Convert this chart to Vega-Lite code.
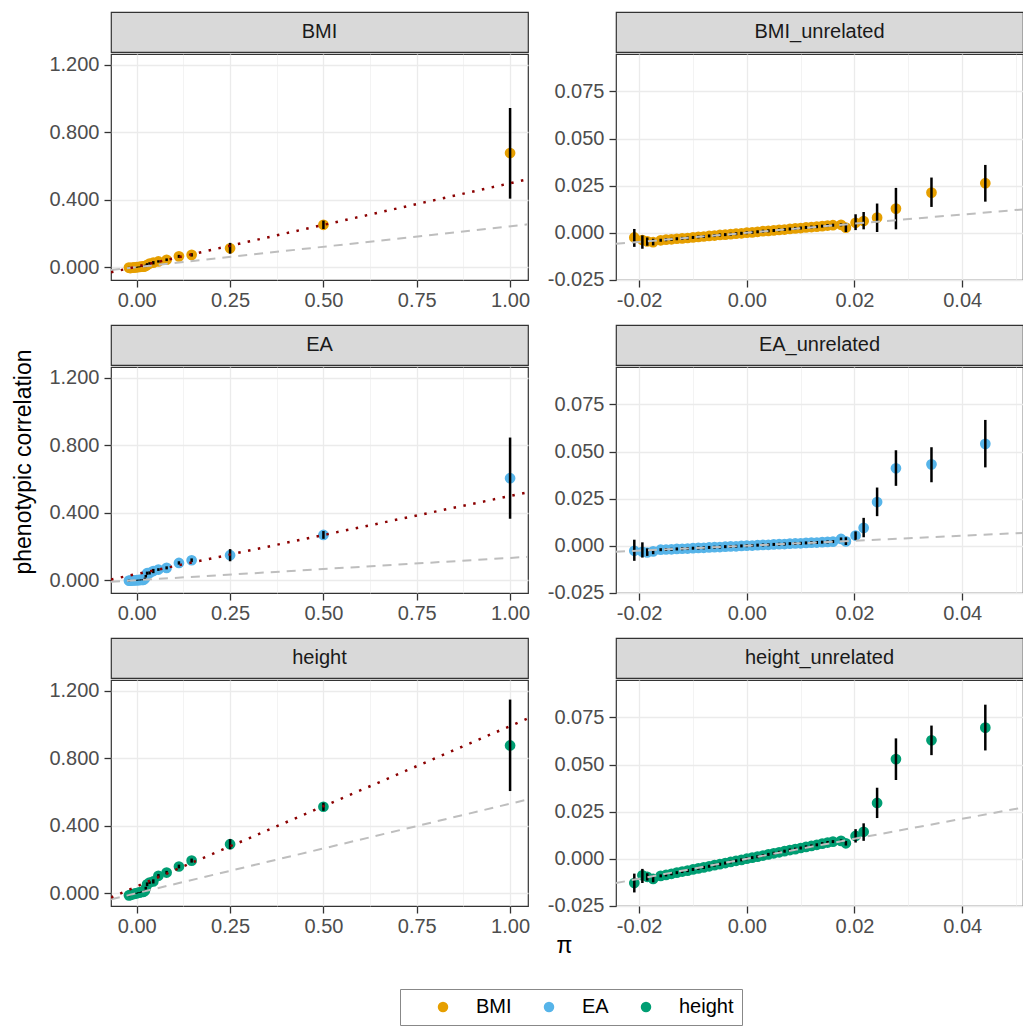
{
  "$schema": "https://vega.github.io/schema/vega-lite/v6.json",
  "padding": {"left": 13, "top": 11, "right": 0, "bottom": 0},
  "autosize": {"type": "pad"},
  "config": {
    "font": "Liberation Sans",
    "view": {"stroke": "#333333", "strokeWidth": 1.2},
    "axis": {"domain": false, "gridColor": "#EBEBEB", "tickColor": "#333333", "tickSize": 7, "tickWidth": 1.3, "labelColor": "#4D4D4D", "labelFontSize": 20, "labelFont": "Liberation Sans"},
    "title": {"font": "Liberation Sans", "fontWeight": "normal", "fontSize": 23, "color": "#000000"}
  },
  "datasets": {
    "pts": [
      {"p":"BMI","t":"BMI","x":-0.0209,"y":-0.0025,"lo":-0.0075,"hi":0.002},
      {"p":"BMI","t":"BMI","x":-0.0174,"y":-0.005,"lo":-0.007,"hi":-0.003},
      {"p":"BMI","t":"BMI","x":-0.012,"y":-0.003,"lo":-0.005,"hi":-0.001},
      {"p":"BMI","t":"BMI","x":-0.008,"y":-0.002,"lo":-0.004,"hi":0.0},
      {"p":"BMI","t":"BMI","x":-0.004,"y":-0.001,"lo":-0.003,"hi":0.001},
      {"p":"BMI","t":"BMI","x":0.0,"y":0.0,"lo":-0.002,"hi":0.002},
      {"p":"BMI","t":"BMI","x":0.004,"y":0.001,"lo":-0.001,"hi":0.003},
      {"p":"BMI","t":"BMI","x":0.008,"y":0.002,"lo":0.0,"hi":0.004},
      {"p":"BMI","t":"BMI","x":0.012,"y":0.003,"lo":0.001,"hi":0.005},
      {"p":"BMI","t":"BMI","x":0.016,"y":0.004,"lo":0.002,"hi":0.006},
      {"p":"BMI","t":"BMI","x":0.0184,"y":0.0027,"lo":0.0004,"hi":0.005},
      {"p":"BMI","t":"BMI","x":0.0217,"y":0.0062,"lo":0.0018,"hi":0.011},
      {"p":"BMI","t":"BMI","x":0.0242,"y":0.008,"lo":0.0004,"hi":0.0155},
      {"p":"BMI","t":"BMI","x":0.0277,"y":0.0128,"lo":0.0018,"hi":0.0238},
      {"p":"BMI","t":"BMI","x":0.0343,"y":0.0213,"lo":0.0137,"hi":0.0293},
      {"p":"BMI","t":"BMI","x":0.0443,"y":0.0263,"lo":0.0165,"hi":0.036},
      {"p":"BMI","t":"BMI","x":0.058,"y":0.034,"lo":0.027,"hi":0.041},
      {"p":"BMI","t":"BMI","x":0.08,"y":0.044,"lo":0.036,"hi":0.052},
      {"p":"BMI","t":"BMI","x":0.113,"y":0.064,"lo":0.055,"hi":0.073},
      {"p":"BMI","t":"BMI","x":0.147,"y":0.073,"lo":0.063,"hi":0.083},
      {"p":"BMI","t":"BMI","x":0.25,"y":0.112,"lo":0.08,"hi":0.144},
      {"p":"BMI","t":"BMI","x":0.5,"y":0.251,"lo":0.226,"hi":0.276},
      {"p":"BMI","t":"BMI","x":1.0,"y":0.676,"lo":0.406,"hi":0.943},

      {"p":"EA","t":"EA","x":-0.0209,"y":-0.0027,"lo":-0.008,"hi":0.0032},
      {"p":"EA","t":"EA","x":-0.0174,"y":-0.003,"lo":-0.0045,"hi":-0.0015},
      {"p":"EA","t":"EA","x":-0.012,"y":-0.0016,"lo":-0.0036,"hi":0.0004},
      {"p":"EA","t":"EA","x":-0.008,"y":-0.0011,"lo":-0.0031,"hi":0.0009},
      {"p":"EA","t":"EA","x":-0.004,"y":-0.0005,"lo":-0.0025,"hi":0.0015},
      {"p":"EA","t":"EA","x":0.0,"y":0.0,"lo":-0.002,"hi":0.002},
      {"p":"EA","t":"EA","x":0.004,"y":0.0005,"lo":-0.0015,"hi":0.0025},
      {"p":"EA","t":"EA","x":0.008,"y":0.0011,"lo":-0.0009,"hi":0.0031},
      {"p":"EA","t":"EA","x":0.012,"y":0.0016,"lo":-0.0004,"hi":0.0036},
      {"p":"EA","t":"EA","x":0.016,"y":0.0022,"lo":0.0002,"hi":0.0042},
      {"p":"EA","t":"EA","x":0.0184,"y":0.0023,"lo":0.0004,"hi":0.0045},
      {"p":"EA","t":"EA","x":0.0217,"y":0.0095,"lo":0.0045,"hi":0.0148},
      {"p":"EA","t":"EA","x":0.0242,"y":0.0232,"lo":0.0157,"hi":0.0309},
      {"p":"EA","t":"EA","x":0.0277,"y":0.0411,"lo":0.0318,"hi":0.0507},
      {"p":"EA","t":"EA","x":0.0343,"y":0.0432,"lo":0.0337,"hi":0.0523},
      {"p":"EA","t":"EA","x":0.0443,"y":0.0541,"lo":0.0416,"hi":0.0668},
      {"p":"EA","t":"EA","x":0.058,"y":0.063,"lo":0.055,"hi":0.071},
      {"p":"EA","t":"EA","x":0.08,"y":0.073,"lo":0.064,"hi":0.082},
      {"p":"EA","t":"EA","x":0.113,"y":0.102,"lo":0.092,"hi":0.112},
      {"p":"EA","t":"EA","x":0.147,"y":0.118,"lo":0.107,"hi":0.129},
      {"p":"EA","t":"EA","x":0.25,"y":0.148,"lo":0.112,"hi":0.184},
      {"p":"EA","t":"EA","x":0.5,"y":0.268,"lo":0.245,"hi":0.291},
      {"p":"EA","t":"EA","x":1.0,"y":0.604,"lo":0.364,"hi":0.845},

      {"p":"height","t":"height","x":-0.0209,"y":-0.0129,"lo":-0.0179,"hi":-0.0079},
      {"p":"height","t":"height","x":-0.0174,"y":-0.0107,"lo":-0.0127,"hi":-0.0087},
      {"p":"height","t":"height","x":-0.012,"y":-0.0068,"lo":-0.0088,"hi":-0.0048},
      {"p":"height","t":"height","x":-0.008,"y":-0.0046,"lo":-0.0066,"hi":-0.0026},
      {"p":"height","t":"height","x":-0.004,"y":-0.0023,"lo":-0.0043,"hi":-0.0003},
      {"p":"height","t":"height","x":0.0,"y":0.0,"lo":-0.002,"hi":0.002},
      {"p":"height","t":"height","x":0.004,"y":0.0023,"lo":0.0003,"hi":0.0043},
      {"p":"height","t":"height","x":0.008,"y":0.0046,"lo":0.0026,"hi":0.0066},
      {"p":"height","t":"height","x":0.012,"y":0.0068,"lo":0.0048,"hi":0.0088},
      {"p":"height","t":"height","x":0.016,"y":0.0091,"lo":0.0071,"hi":0.0111},
      {"p":"height","t":"height","x":0.0184,"y":0.0082,"lo":0.007,"hi":0.0094},
      {"p":"height","t":"height","x":0.0217,"y":0.0143,"lo":0.0095,"hi":0.0188},
      {"p":"height","t":"height","x":0.0242,"y":0.0296,"lo":0.0216,"hi":0.0377},
      {"p":"height","t":"height","x":0.0277,"y":0.0529,"lo":0.0418,"hi":0.0639},
      {"p":"height","t":"height","x":0.0343,"y":0.0629,"lo":0.055,"hi":0.0707},
      {"p":"height","t":"height","x":0.0443,"y":0.0696,"lo":0.0575,"hi":0.0818},
      {"p":"height","t":"height","x":0.058,"y":0.103,"lo":0.093,"hi":0.113},
      {"p":"height","t":"height","x":0.08,"y":0.122,"lo":0.112,"hi":0.132},
      {"p":"height","t":"height","x":0.113,"y":0.158,"lo":0.147,"hi":0.169},
      {"p":"height","t":"height","x":0.147,"y":0.193,"lo":0.181,"hi":0.205},
      {"p":"height","t":"height","x":0.25,"y":0.29,"lo":0.26,"hi":0.32},
      {"p":"height","t":"height","x":0.5,"y":0.512,"lo":0.488,"hi":0.536},
      {"p":"height","t":"height","x":1.0,"y":0.875,"lo":0.605,"hi":1.147},

      {"p":"BMI_unrelated","t":"BMI","x":-0.0209,"y":-0.0025,"lo":-0.0075,"hi":0.002},
      {"p":"BMI_unrelated","t":"BMI","x":-0.0194,"y":-0.0039,"lo":-0.0085,"hi":-0.0014},
      {"p":"BMI_unrelated","t":"BMI","x":-0.0185,"y":-0.0046,"lo":-0.0069,"hi":-0.0025},
      {"p":"BMI_unrelated","t":"BMI","x":-0.0174,"y":-0.005,"lo":-0.0067,"hi":-0.0032},
      {"p":"BMI_unrelated","t":"BMI","x":-0.016,"y":-0.004,"lo":-0.0048,"hi":-0.0032},
      {"p":"BMI_unrelated","t":"BMI","x":-0.015,"y":-0.0037,"lo":-0.0045,"hi":-0.0029},
      {"p":"BMI_unrelated","t":"BMI","x":-0.014,"y":-0.0035,"lo":-0.0043,"hi":-0.0027},
      {"p":"BMI_unrelated","t":"BMI","x":-0.013,"y":-0.0032,"lo":-0.004,"hi":-0.0024},
      {"p":"BMI_unrelated","t":"BMI","x":-0.012,"y":-0.003,"lo":-0.0038,"hi":-0.0022},
      {"p":"BMI_unrelated","t":"BMI","x":-0.011,"y":-0.0028,"lo":-0.0036,"hi":-0.002},
      {"p":"BMI_unrelated","t":"BMI","x":-0.01,"y":-0.0025,"lo":-0.0033,"hi":-0.0017},
      {"p":"BMI_unrelated","t":"BMI","x":-0.009,"y":-0.0022,"lo":-0.003,"hi":-0.0014},
      {"p":"BMI_unrelated","t":"BMI","x":-0.008,"y":-0.002,"lo":-0.0028,"hi":-0.0012},
      {"p":"BMI_unrelated","t":"BMI","x":-0.007,"y":-0.0017,"lo":-0.0025,"hi":-0.0009},
      {"p":"BMI_unrelated","t":"BMI","x":-0.006,"y":-0.0015,"lo":-0.0023,"hi":-0.0007},
      {"p":"BMI_unrelated","t":"BMI","x":-0.005,"y":-0.0012,"lo":-0.002,"hi":-0.0004},
      {"p":"BMI_unrelated","t":"BMI","x":-0.004,"y":-0.001,"lo":-0.0018,"hi":-0.0002},
      {"p":"BMI_unrelated","t":"BMI","x":-0.003,"y":-0.0008,"lo":-0.0016,"hi":0.0},
      {"p":"BMI_unrelated","t":"BMI","x":-0.002,"y":-0.0005,"lo":-0.0013,"hi":0.0003},
      {"p":"BMI_unrelated","t":"BMI","x":-0.001,"y":-0.0003,"lo":-0.0011,"hi":0.0005},
      {"p":"BMI_unrelated","t":"BMI","x":0.0,"y":0.0,"lo":-0.0008,"hi":0.0008},
      {"p":"BMI_unrelated","t":"BMI","x":0.001,"y":0.0002,"lo":-0.0006,"hi":0.001},
      {"p":"BMI_unrelated","t":"BMI","x":0.002,"y":0.0005,"lo":-0.0003,"hi":0.0013},
      {"p":"BMI_unrelated","t":"BMI","x":0.003,"y":0.0008,"lo":0.0,"hi":0.0016},
      {"p":"BMI_unrelated","t":"BMI","x":0.004,"y":0.001,"lo":0.0002,"hi":0.0018},
      {"p":"BMI_unrelated","t":"BMI","x":0.005,"y":0.0012,"lo":0.0004,"hi":0.002},
      {"p":"BMI_unrelated","t":"BMI","x":0.006,"y":0.0015,"lo":0.0007,"hi":0.0023},
      {"p":"BMI_unrelated","t":"BMI","x":0.007,"y":0.0017,"lo":0.0009,"hi":0.0025},
      {"p":"BMI_unrelated","t":"BMI","x":0.008,"y":0.002,"lo":0.0012,"hi":0.0028},
      {"p":"BMI_unrelated","t":"BMI","x":0.009,"y":0.0023,"lo":0.0015,"hi":0.0031},
      {"p":"BMI_unrelated","t":"BMI","x":0.01,"y":0.0025,"lo":0.0017,"hi":0.0033},
      {"p":"BMI_unrelated","t":"BMI","x":0.011,"y":0.0028,"lo":0.002,"hi":0.0036},
      {"p":"BMI_unrelated","t":"BMI","x":0.012,"y":0.003,"lo":0.0022,"hi":0.0038},
      {"p":"BMI_unrelated","t":"BMI","x":0.013,"y":0.0032,"lo":0.0024,"hi":0.004},
      {"p":"BMI_unrelated","t":"BMI","x":0.014,"y":0.0035,"lo":0.0027,"hi":0.0043},
      {"p":"BMI_unrelated","t":"BMI","x":0.015,"y":0.0038,"lo":0.003,"hi":0.0046},
      {"p":"BMI_unrelated","t":"BMI","x":0.016,"y":0.004,"lo":0.0032,"hi":0.0048},
      {"p":"BMI_unrelated","t":"BMI","x":0.0175,"y":0.0042,"lo":0.0034,"hi":0.005},
      {"p":"BMI_unrelated","t":"BMI","x":0.0184,"y":0.0027,"lo":0.0004,"hi":0.005},
      {"p":"BMI_unrelated","t":"BMI","x":0.0202,"y":0.0053,"lo":0.0014,"hi":0.0098},
      {"p":"BMI_unrelated","t":"BMI","x":0.0217,"y":0.0062,"lo":0.0018,"hi":0.011},
      {"p":"BMI_unrelated","t":"BMI","x":0.0242,"y":0.008,"lo":0.0004,"hi":0.0155},
      {"p":"BMI_unrelated","t":"BMI","x":0.0277,"y":0.0128,"lo":0.0018,"hi":0.0238},
      {"p":"BMI_unrelated","t":"BMI","x":0.0343,"y":0.0213,"lo":0.0137,"hi":0.0293},
      {"p":"BMI_unrelated","t":"BMI","x":0.0443,"y":0.0263,"lo":0.0165,"hi":0.036},

      {"p":"EA_unrelated","t":"EA","x":-0.0209,"y":-0.0027,"lo":-0.008,"hi":0.0032},
      {"p":"EA_unrelated","t":"EA","x":-0.0194,"y":-0.0032,"lo":-0.0063,"hi":0.0018},
      {"p":"EA_unrelated","t":"EA","x":-0.0185,"y":-0.0036,"lo":-0.0054,"hi":-0.0014},
      {"p":"EA_unrelated","t":"EA","x":-0.0174,"y":-0.003,"lo":-0.0045,"hi":-0.0018},
      {"p":"EA_unrelated","t":"EA","x":-0.016,"y":-0.0021,"lo":-0.0029,"hi":-0.0013},
      {"p":"EA_unrelated","t":"EA","x":-0.015,"y":-0.002,"lo":-0.0028,"hi":-0.0012},
      {"p":"EA_unrelated","t":"EA","x":-0.014,"y":-0.0019,"lo":-0.0027,"hi":-0.0011},
      {"p":"EA_unrelated","t":"EA","x":-0.013,"y":-0.0017,"lo":-0.0025,"hi":-0.0009},
      {"p":"EA_unrelated","t":"EA","x":-0.012,"y":-0.0016,"lo":-0.0024,"hi":-0.0008},
      {"p":"EA_unrelated","t":"EA","x":-0.011,"y":-0.0015,"lo":-0.0023,"hi":-0.0007},
      {"p":"EA_unrelated","t":"EA","x":-0.01,"y":-0.0013,"lo":-0.0021,"hi":-0.0005},
      {"p":"EA_unrelated","t":"EA","x":-0.009,"y":-0.0012,"lo":-0.002,"hi":-0.0004},
      {"p":"EA_unrelated","t":"EA","x":-0.008,"y":-0.0011,"lo":-0.0019,"hi":-0.0003},
      {"p":"EA_unrelated","t":"EA","x":-0.007,"y":-0.0009,"lo":-0.0017,"hi":-0.0001},
      {"p":"EA_unrelated","t":"EA","x":-0.006,"y":-0.0008,"lo":-0.0016,"hi":0.0},
      {"p":"EA_unrelated","t":"EA","x":-0.005,"y":-0.0007,"lo":-0.0015,"hi":0.0001},
      {"p":"EA_unrelated","t":"EA","x":-0.004,"y":-0.0005,"lo":-0.0013,"hi":0.0003},
      {"p":"EA_unrelated","t":"EA","x":-0.003,"y":-0.0004,"lo":-0.0012,"hi":0.0004},
      {"p":"EA_unrelated","t":"EA","x":-0.002,"y":-0.0003,"lo":-0.0011,"hi":0.0005},
      {"p":"EA_unrelated","t":"EA","x":-0.001,"y":-0.0001,"lo":-0.0009,"hi":0.0007},
      {"p":"EA_unrelated","t":"EA","x":0.0,"y":0.0,"lo":-0.0008,"hi":0.0008},
      {"p":"EA_unrelated","t":"EA","x":0.001,"y":0.0001,"lo":-0.0007,"hi":0.0009},
      {"p":"EA_unrelated","t":"EA","x":0.002,"y":0.0003,"lo":-0.0005,"hi":0.0011},
      {"p":"EA_unrelated","t":"EA","x":0.003,"y":0.0004,"lo":-0.0004,"hi":0.0012},
      {"p":"EA_unrelated","t":"EA","x":0.004,"y":0.0005,"lo":-0.0003,"hi":0.0013},
      {"p":"EA_unrelated","t":"EA","x":0.005,"y":0.0007,"lo":-0.0001,"hi":0.0015},
      {"p":"EA_unrelated","t":"EA","x":0.006,"y":0.0008,"lo":0.0,"hi":0.0016},
      {"p":"EA_unrelated","t":"EA","x":0.007,"y":0.0009,"lo":0.0001,"hi":0.0017},
      {"p":"EA_unrelated","t":"EA","x":0.008,"y":0.0011,"lo":0.0003,"hi":0.0019},
      {"p":"EA_unrelated","t":"EA","x":0.009,"y":0.0012,"lo":0.0004,"hi":0.002},
      {"p":"EA_unrelated","t":"EA","x":0.01,"y":0.0013,"lo":0.0005,"hi":0.0021},
      {"p":"EA_unrelated","t":"EA","x":0.011,"y":0.0015,"lo":0.0007,"hi":0.0023},
      {"p":"EA_unrelated","t":"EA","x":0.012,"y":0.0016,"lo":0.0008,"hi":0.0024},
      {"p":"EA_unrelated","t":"EA","x":0.013,"y":0.0017,"lo":0.0009,"hi":0.0025},
      {"p":"EA_unrelated","t":"EA","x":0.014,"y":0.0019,"lo":0.0011,"hi":0.0027},
      {"p":"EA_unrelated","t":"EA","x":0.015,"y":0.002,"lo":0.0012,"hi":0.0028},
      {"p":"EA_unrelated","t":"EA","x":0.016,"y":0.0022,"lo":0.0014,"hi":0.003},
      {"p":"EA_unrelated","t":"EA","x":0.0175,"y":0.0036,"lo":0.0028,"hi":0.0044},
      {"p":"EA_unrelated","t":"EA","x":0.0184,"y":0.0023,"lo":0.0004,"hi":0.0045},
      {"p":"EA_unrelated","t":"EA","x":0.0202,"y":0.0054,"lo":0.003,"hi":0.0076},
      {"p":"EA_unrelated","t":"EA","x":0.0217,"y":0.0095,"lo":0.0045,"hi":0.0148},
      {"p":"EA_unrelated","t":"EA","x":0.0242,"y":0.0232,"lo":0.0157,"hi":0.0309},
      {"p":"EA_unrelated","t":"EA","x":0.0277,"y":0.0411,"lo":0.0318,"hi":0.0507},
      {"p":"EA_unrelated","t":"EA","x":0.0343,"y":0.0432,"lo":0.0337,"hi":0.0523},
      {"p":"EA_unrelated","t":"EA","x":0.0443,"y":0.0541,"lo":0.0416,"hi":0.0668},

      {"p":"height_unrelated","t":"height","x":-0.0209,"y":-0.0129,"lo":-0.0179,"hi":-0.0079},
      {"p":"height_unrelated","t":"height","x":-0.0194,"y":-0.0088,"lo":-0.0129,"hi":-0.0054},
      {"p":"height_unrelated","t":"height","x":-0.0185,"y":-0.0096,"lo":-0.0116,"hi":-0.0077},
      {"p":"height_unrelated","t":"height","x":-0.0174,"y":-0.0107,"lo":-0.0125,"hi":-0.0089},
      {"p":"height_unrelated","t":"height","x":-0.016,"y":-0.0091,"lo":-0.0099,"hi":-0.0083},
      {"p":"height_unrelated","t":"height","x":-0.015,"y":-0.0086,"lo":-0.0094,"hi":-0.0078},
      {"p":"height_unrelated","t":"height","x":-0.014,"y":-0.008,"lo":-0.0088,"hi":-0.0072},
      {"p":"height_unrelated","t":"height","x":-0.013,"y":-0.0074,"lo":-0.0082,"hi":-0.0066},
      {"p":"height_unrelated","t":"height","x":-0.012,"y":-0.0068,"lo":-0.0076,"hi":-0.006},
      {"p":"height_unrelated","t":"height","x":-0.011,"y":-0.0063,"lo":-0.0071,"hi":-0.0055},
      {"p":"height_unrelated","t":"height","x":-0.01,"y":-0.0057,"lo":-0.0065,"hi":-0.0049},
      {"p":"height_unrelated","t":"height","x":-0.009,"y":-0.0051,"lo":-0.0059,"hi":-0.0043},
      {"p":"height_unrelated","t":"height","x":-0.008,"y":-0.0046,"lo":-0.0054,"hi":-0.0038},
      {"p":"height_unrelated","t":"height","x":-0.007,"y":-0.004,"lo":-0.0048,"hi":-0.0032},
      {"p":"height_unrelated","t":"height","x":-0.006,"y":-0.0034,"lo":-0.0042,"hi":-0.0026},
      {"p":"height_unrelated","t":"height","x":-0.005,"y":-0.0029,"lo":-0.0037,"hi":-0.0021},
      {"p":"height_unrelated","t":"height","x":-0.004,"y":-0.0023,"lo":-0.0031,"hi":-0.0015},
      {"p":"height_unrelated","t":"height","x":-0.003,"y":-0.0017,"lo":-0.0025,"hi":-0.0009},
      {"p":"height_unrelated","t":"height","x":-0.002,"y":-0.0011,"lo":-0.0019,"hi":-0.0003},
      {"p":"height_unrelated","t":"height","x":-0.001,"y":-0.0006,"lo":-0.0014,"hi":0.0002},
      {"p":"height_unrelated","t":"height","x":0.0,"y":0.0,"lo":-0.0008,"hi":0.0008},
      {"p":"height_unrelated","t":"height","x":0.001,"y":0.0006,"lo":-0.0002,"hi":0.0014},
      {"p":"height_unrelated","t":"height","x":0.002,"y":0.0011,"lo":0.0003,"hi":0.0019},
      {"p":"height_unrelated","t":"height","x":0.003,"y":0.0017,"lo":0.0009,"hi":0.0025},
      {"p":"height_unrelated","t":"height","x":0.004,"y":0.0023,"lo":0.0015,"hi":0.0031},
      {"p":"height_unrelated","t":"height","x":0.005,"y":0.0029,"lo":0.0021,"hi":0.0037},
      {"p":"height_unrelated","t":"height","x":0.006,"y":0.0034,"lo":0.0026,"hi":0.0042},
      {"p":"height_unrelated","t":"height","x":0.007,"y":0.004,"lo":0.0032,"hi":0.0048},
      {"p":"height_unrelated","t":"height","x":0.008,"y":0.0046,"lo":0.0038,"hi":0.0054},
      {"p":"height_unrelated","t":"height","x":0.009,"y":0.0051,"lo":0.0043,"hi":0.0059},
      {"p":"height_unrelated","t":"height","x":0.01,"y":0.0057,"lo":0.0049,"hi":0.0065},
      {"p":"height_unrelated","t":"height","x":0.011,"y":0.0063,"lo":0.0055,"hi":0.0071},
      {"p":"height_unrelated","t":"height","x":0.012,"y":0.0068,"lo":0.006,"hi":0.0076},
      {"p":"height_unrelated","t":"height","x":0.013,"y":0.0074,"lo":0.0066,"hi":0.0082},
      {"p":"height_unrelated","t":"height","x":0.014,"y":0.008,"lo":0.0072,"hi":0.0088},
      {"p":"height_unrelated","t":"height","x":0.015,"y":0.0086,"lo":0.0078,"hi":0.0094},
      {"p":"height_unrelated","t":"height","x":0.016,"y":0.0091,"lo":0.0083,"hi":0.0099},
      {"p":"height_unrelated","t":"height","x":0.0175,"y":0.0095,"lo":0.0087,"hi":0.0103},
      {"p":"height_unrelated","t":"height","x":0.0184,"y":0.0082,"lo":0.007,"hi":0.0094},
      {"p":"height_unrelated","t":"height","x":0.0202,"y":0.0121,"lo":0.0086,"hi":0.0157},
      {"p":"height_unrelated","t":"height","x":0.0217,"y":0.0143,"lo":0.0095,"hi":0.0188},
      {"p":"height_unrelated","t":"height","x":0.0242,"y":0.0296,"lo":0.0216,"hi":0.0377},
      {"p":"height_unrelated","t":"height","x":0.0277,"y":0.0529,"lo":0.0418,"hi":0.0639},
      {"p":"height_unrelated","t":"height","x":0.0343,"y":0.0629,"lo":0.055,"hi":0.0707},
      {"p":"height_unrelated","t":"height","x":0.0443,"y":0.0696,"lo":0.0575,"hi":0.0818}
    ],
    "lines": [
      {"p":"BMI","k":"h2","x":-0.069,"y":-0.0167},
      {"p":"BMI","k":"h2","x":1.048,"y":0.2536},
      {"p":"BMI","k":"fit","x":-0.069,"y":-0.0305},
      {"p":"BMI","k":"fit","x":1.048,"y":0.521},
      {"p":"EA","k":"h2","x":-0.069,"y":-0.0091},
      {"p":"EA","k":"h2","x":1.048,"y":0.1383},
      {"p":"EA","k":"fit","x":-0.069,"y":0.0044},
      {"p":"EA","k":"fit","x":1.048,"y":0.521},
      {"p":"height","k":"h2","x":-0.069,"y":-0.0366},
      {"p":"height","k":"h2","x":1.048,"y":0.5554},
      {"p":"height","k":"fit","x":-0.069,"y":-0.0256},
      {"p":"height","k":"fit","x":1.048,"y":1.0356},
      {"p":"BMI_unrelated","k":"h2","x":-0.0243,"y":-0.0059},
      {"p":"BMI_unrelated","k":"h2","x":0.0513,"y":0.0124},
      {"p":"EA_unrelated","k":"h2","x":-0.0243,"y":-0.0032},
      {"p":"EA_unrelated","k":"h2","x":0.0513,"y":0.0068},
      {"p":"height_unrelated","k":"h2","x":-0.0243,"y":-0.0129},
      {"p":"height_unrelated","k":"h2","x":0.0513,"y":0.0272}
    ]
  },
  "vconcat": [
    {
      "title": {"text": "π", "orient": "bottom", "anchor": "middle", "frame": "bounds", "offset": -2, "dx": 46},
      "vconcat": [
        {
          "title": {"text": "phenotypic correlation", "orient": "left", "anchor": "middle", "frame": "bounds", "offset": 8, "dx": 12},
          "spacing": 13,
          "vconcat": [
            {
              "spacing": 12,
              "hconcat": [
                {
                  "spacing": 0,
                  "vconcat": [
                    {"width": 417, "height": 40, "view": {"fill": "#D9D9D9", "stroke": "#333333", "strokeWidth": 1.2},
                     "data": {"values": [{"s": "BMI"}]},
                     "mark": {"type": "text", "fontSize": 20, "color": "#1A1A1A", "baseline": "middle"},
                     "encoding": {"text": {"field": "s"}, "y": {"datum": 0.5, "type": "quantitative", "scale": {"domain": [0, 1]}, "axis": {"title": null, "labels": false, "ticks": false, "grid": false, "domain": false, "minExtent": 66, "maxExtent": 66}}}},
                    {"width": 417, "height": 226,
                     "layer": [
                       {"data": {"name": "pts"}, "transform": [{"filter": "datum.p === 'BMI'"}],
                        "mark": {"type": "circle", "size": 115, "opacity": 1},
                        "encoding": {
                          "x": {"field": "x", "type": "quantitative", "scale": {"domain": [-0.069, 1.048], "nice": false, "zero": false},
                                "axis": {"title": null, "values": [0,0.125,0.25,0.375,0.5,0.625,0.75,0.875,1], "labelExpr": "abs(datum.value*4-round(datum.value*4))<0.000001 ? format(datum.value,'.2f') : ''", "gridWidth": {"condition": {"test": "abs(datum.value*4-round(datum.value*4))<0.000001", "value": 1.3}, "value": 0.6}, "tickOpacity": {"condition": {"test": "abs(datum.value*4-round(datum.value*4))<0.000001", "value": 1}, "value": 0}, "labelFlush": false, "labelOverlap": false, "labelPadding": 3}},
                          "y": {"field": "y", "type": "quantitative", "scale": {"domain": [-0.076, 1.263], "nice": false, "zero": false},
                                "axis": {"title": null, "values": [0,0.2,0.4,0.6,0.8,1,1.2], "labelExpr": "abs(datum.value*2.5-round(datum.value*2.5))<0.000001 ? format(datum.value,'.3f') : ''", "gridWidth": {"condition": {"test": "abs(datum.value*2.5-round(datum.value*2.5))<0.000001", "value": 1.3}, "value": 0.6}, "tickOpacity": {"condition": {"test": "abs(datum.value*2.5-round(datum.value*2.5))<0.000001", "value": 1}, "value": 0}, "labelOverlap": false, "labelPadding": 5, "minExtent": 66, "maxExtent": 66}},
                          "color": {"field": "t", "type": "nominal", "scale": {"domain": ["BMI", "EA", "height"], "range": ["#E69F00", "#56B4E9", "#009E73"]},
                                    "legend": {"title": null, "orient": "none", "legendX": 289, "legendY": 977, "direction": "horizontal", "gridAlign": "none", "symbolType": "circle", "symbolSize": 110, "symbolOffset": 25, "labelFontSize": 20, "labelColor": "#000000", "labelOffset": 23, "columnPadding": 2, "padding": 8, "strokeColor": "#888888"}}}},
                       {"data": {"name": "pts"}, "transform": [{"filter": "datum.p === 'BMI'"}],
                        "mark": {"type": "rule", "color": "#000000", "strokeWidth": 2.5},
                        "encoding": {"x": {"field": "x", "type": "quantitative"}, "y": {"field": "lo", "type": "quantitative"}, "y2": {"field": "hi"}}},
                       {"data": {"name": "lines"}, "transform": [{"filter": "datum.p === 'BMI' && datum.k === 'h2'"}],
                        "mark": {"type": "line", "color": "#BEBEBE", "strokeWidth": 2, "strokeDash": [9, 7], "clip": true},
                        "encoding": {"x": {"field": "x", "type": "quantitative"}, "y": {"field": "y", "type": "quantitative"}}},
                       {"data": {"name": "lines"}, "transform": [{"filter": "datum.p === 'BMI' && datum.k === 'fit'"}],
                        "mark": {"type": "line", "color": "#8B0000", "strokeWidth": 2.5, "strokeDash": [2.5, 7.5], "clip": true},
                        "encoding": {"x": {"field": "x", "type": "quantitative"}, "y": {"field": "y", "type": "quantitative"}}}
                     ]}
                  ]
                },
                {
                  "spacing": 0,
                  "vconcat": [
                    {"width": 407, "height": 40, "view": {"fill": "#D9D9D9", "stroke": "#333333", "strokeWidth": 1.2},
                     "data": {"values": [{"s": "BMI_unrelated"}]},
                     "mark": {"type": "text", "fontSize": 20, "color": "#1A1A1A", "baseline": "middle"},
                     "encoding": {"text": {"field": "s"}, "y": {"datum": 0.5, "type": "quantitative", "scale": {"domain": [0, 1]}, "axis": {"title": null, "labels": false, "ticks": false, "grid": false, "domain": false, "minExtent": 72, "maxExtent": 72}}}},
                    {"width": 407, "height": 226,
                     "layer": [
                       {"data": {"name": "pts"}, "transform": [{"filter": "datum.p === 'BMI_unrelated'"}],
                        "mark": {"type": "circle", "size": 115, "opacity": 1},
                        "encoding": {
                          "x": {"field": "x", "type": "quantitative", "scale": {"domain": [-0.0243, 0.0513], "nice": false, "zero": false},
                                "axis": {"title": null, "values": [-0.02,-0.01,0,0.01,0.02,0.03,0.04,0.05], "labelExpr": "abs(datum.value*50-round(datum.value*50))<0.000001 ? replace(format(datum.value,'.2f'),'−','-') : ''", "gridWidth": {"condition": {"test": "abs(datum.value*50-round(datum.value*50))<0.000001", "value": 1.3}, "value": 0.6}, "tickOpacity": {"condition": {"test": "abs(datum.value*50-round(datum.value*50))<0.000001", "value": 1}, "value": 0}, "labelFlush": false, "labelOverlap": false, "labelPadding": 3}},
                          "y": {"field": "y", "type": "quantitative", "scale": {"domain": [-0.0251, 0.0949], "nice": false, "zero": false},
                                "axis": {"title": null, "values": [-0.025,-0.0125,0,0.0125,0.025,0.0375,0.05,0.0625,0.075,0.0875], "labelExpr": "abs(datum.value*40-round(datum.value*40))<0.000001 ? replace(format(datum.value,'.3f'),'−','-') : ''", "gridWidth": {"condition": {"test": "abs(datum.value*40-round(datum.value*40))<0.000001", "value": 1.3}, "value": 0.6}, "tickOpacity": {"condition": {"test": "abs(datum.value*40-round(datum.value*40))<0.000001", "value": 1}, "value": 0}, "labelOverlap": false, "labelPadding": 5, "minExtent": 72, "maxExtent": 72}},
                          "color": {"field": "t", "type": "nominal", "scale": {"domain": ["BMI", "EA", "height"], "range": ["#E69F00", "#56B4E9", "#009E73"]},
                                    "legend": {"title": null, "orient": "none", "legendX": 289, "legendY": 977, "direction": "horizontal", "gridAlign": "none", "symbolType": "circle", "symbolSize": 110, "symbolOffset": 25, "labelFontSize": 20, "labelColor": "#000000", "labelOffset": 23, "columnPadding": 2, "padding": 8, "strokeColor": "#888888"}}}},
                       {"data": {"name": "pts"}, "transform": [{"filter": "datum.p === 'BMI_unrelated'"}],
                        "mark": {"type": "rule", "color": "#000000", "strokeWidth": 2.5},
                        "encoding": {"x": {"field": "x", "type": "quantitative"}, "y": {"field": "lo", "type": "quantitative"}, "y2": {"field": "hi"}}},
                       {"data": {"name": "lines"}, "transform": [{"filter": "datum.p === 'BMI_unrelated' && datum.k === 'h2'"}],
                        "mark": {"type": "line", "color": "#BEBEBE", "strokeWidth": 2, "strokeDash": [9, 7], "clip": true},
                        "encoding": {"x": {"field": "x", "type": "quantitative"}, "y": {"field": "y", "type": "quantitative"}}}
                     ]}
                  ]
                }
              ]
            },
            {
              "spacing": 12,
              "hconcat": [
                {
                  "spacing": 0,
                  "vconcat": [
                    {"width": 417, "height": 40, "view": {"fill": "#D9D9D9", "stroke": "#333333", "strokeWidth": 1.2},
                     "data": {"values": [{"s": "EA"}]},
                     "mark": {"type": "text", "fontSize": 20, "color": "#1A1A1A", "baseline": "middle"},
                     "encoding": {"text": {"field": "s"}, "y": {"datum": 0.5, "type": "quantitative", "scale": {"domain": [0, 1]}, "axis": {"title": null, "labels": false, "ticks": false, "grid": false, "domain": false, "minExtent": 66, "maxExtent": 66}}}},
                    {"width": 417, "height": 226,
                     "layer": [
                       {"data": {"name": "pts"}, "transform": [{"filter": "datum.p === 'EA'"}],
                        "mark": {"type": "circle", "size": 115, "opacity": 1},
                        "encoding": {
                          "x": {"field": "x", "type": "quantitative", "scale": {"domain": [-0.069, 1.048], "nice": false, "zero": false},
                                "axis": {"title": null, "values": [0,0.125,0.25,0.375,0.5,0.625,0.75,0.875,1], "labelExpr": "abs(datum.value*4-round(datum.value*4))<0.000001 ? format(datum.value,'.2f') : ''", "gridWidth": {"condition": {"test": "abs(datum.value*4-round(datum.value*4))<0.000001", "value": 1.3}, "value": 0.6}, "tickOpacity": {"condition": {"test": "abs(datum.value*4-round(datum.value*4))<0.000001", "value": 1}, "value": 0}, "labelFlush": false, "labelOverlap": false, "labelPadding": 3}},
                          "y": {"field": "y", "type": "quantitative", "scale": {"domain": [-0.076, 1.263], "nice": false, "zero": false},
                                "axis": {"title": null, "values": [0,0.2,0.4,0.6,0.8,1,1.2], "labelExpr": "abs(datum.value*2.5-round(datum.value*2.5))<0.000001 ? format(datum.value,'.3f') : ''", "gridWidth": {"condition": {"test": "abs(datum.value*2.5-round(datum.value*2.5))<0.000001", "value": 1.3}, "value": 0.6}, "tickOpacity": {"condition": {"test": "abs(datum.value*2.5-round(datum.value*2.5))<0.000001", "value": 1}, "value": 0}, "labelOverlap": false, "labelPadding": 5, "minExtent": 66, "maxExtent": 66}},
                          "color": {"field": "t", "type": "nominal", "scale": {"domain": ["BMI", "EA", "height"], "range": ["#E69F00", "#56B4E9", "#009E73"]},
                                    "legend": {"title": null, "orient": "none", "legendX": 289, "legendY": 977, "direction": "horizontal", "gridAlign": "none", "symbolType": "circle", "symbolSize": 110, "symbolOffset": 25, "labelFontSize": 20, "labelColor": "#000000", "labelOffset": 23, "columnPadding": 2, "padding": 8, "strokeColor": "#888888"}}}},
                       {"data": {"name": "pts"}, "transform": [{"filter": "datum.p === 'EA'"}],
                        "mark": {"type": "rule", "color": "#000000", "strokeWidth": 2.5},
                        "encoding": {"x": {"field": "x", "type": "quantitative"}, "y": {"field": "lo", "type": "quantitative"}, "y2": {"field": "hi"}}},
                       {"data": {"name": "lines"}, "transform": [{"filter": "datum.p === 'EA' && datum.k === 'h2'"}],
                        "mark": {"type": "line", "color": "#BEBEBE", "strokeWidth": 2, "strokeDash": [9, 7], "clip": true},
                        "encoding": {"x": {"field": "x", "type": "quantitative"}, "y": {"field": "y", "type": "quantitative"}}},
                       {"data": {"name": "lines"}, "transform": [{"filter": "datum.p === 'EA' && datum.k === 'fit'"}],
                        "mark": {"type": "line", "color": "#8B0000", "strokeWidth": 2.5, "strokeDash": [2.5, 7.5], "clip": true},
                        "encoding": {"x": {"field": "x", "type": "quantitative"}, "y": {"field": "y", "type": "quantitative"}}}
                     ]}
                  ]
                },
                {
                  "spacing": 0,
                  "vconcat": [
                    {"width": 407, "height": 40, "view": {"fill": "#D9D9D9", "stroke": "#333333", "strokeWidth": 1.2},
                     "data": {"values": [{"s": "EA_unrelated"}]},
                     "mark": {"type": "text", "fontSize": 20, "color": "#1A1A1A", "baseline": "middle"},
                     "encoding": {"text": {"field": "s"}, "y": {"datum": 0.5, "type": "quantitative", "scale": {"domain": [0, 1]}, "axis": {"title": null, "labels": false, "ticks": false, "grid": false, "domain": false, "minExtent": 72, "maxExtent": 72}}}},
                    {"width": 407, "height": 226,
                     "layer": [
                       {"data": {"name": "pts"}, "transform": [{"filter": "datum.p === 'EA_unrelated'"}],
                        "mark": {"type": "circle", "size": 115, "opacity": 1},
                        "encoding": {
                          "x": {"field": "x", "type": "quantitative", "scale": {"domain": [-0.0243, 0.0513], "nice": false, "zero": false},
                                "axis": {"title": null, "values": [-0.02,-0.01,0,0.01,0.02,0.03,0.04,0.05], "labelExpr": "abs(datum.value*50-round(datum.value*50))<0.000001 ? replace(format(datum.value,'.2f'),'−','-') : ''", "gridWidth": {"condition": {"test": "abs(datum.value*50-round(datum.value*50))<0.000001", "value": 1.3}, "value": 0.6}, "tickOpacity": {"condition": {"test": "abs(datum.value*50-round(datum.value*50))<0.000001", "value": 1}, "value": 0}, "labelFlush": false, "labelOverlap": false, "labelPadding": 3}},
                          "y": {"field": "y", "type": "quantitative", "scale": {"domain": [-0.0251, 0.0949], "nice": false, "zero": false},
                                "axis": {"title": null, "values": [-0.025,-0.0125,0,0.0125,0.025,0.0375,0.05,0.0625,0.075,0.0875], "labelExpr": "abs(datum.value*40-round(datum.value*40))<0.000001 ? replace(format(datum.value,'.3f'),'−','-') : ''", "gridWidth": {"condition": {"test": "abs(datum.value*40-round(datum.value*40))<0.000001", "value": 1.3}, "value": 0.6}, "tickOpacity": {"condition": {"test": "abs(datum.value*40-round(datum.value*40))<0.000001", "value": 1}, "value": 0}, "labelOverlap": false, "labelPadding": 5, "minExtent": 72, "maxExtent": 72}},
                          "color": {"field": "t", "type": "nominal", "scale": {"domain": ["BMI", "EA", "height"], "range": ["#E69F00", "#56B4E9", "#009E73"]},
                                    "legend": {"title": null, "orient": "none", "legendX": 289, "legendY": 977, "direction": "horizontal", "gridAlign": "none", "symbolType": "circle", "symbolSize": 110, "symbolOffset": 25, "labelFontSize": 20, "labelColor": "#000000", "labelOffset": 23, "columnPadding": 2, "padding": 8, "strokeColor": "#888888"}}}},
                       {"data": {"name": "pts"}, "transform": [{"filter": "datum.p === 'EA_unrelated'"}],
                        "mark": {"type": "rule", "color": "#000000", "strokeWidth": 2.5},
                        "encoding": {"x": {"field": "x", "type": "quantitative"}, "y": {"field": "lo", "type": "quantitative"}, "y2": {"field": "hi"}}},
                       {"data": {"name": "lines"}, "transform": [{"filter": "datum.p === 'EA_unrelated' && datum.k === 'h2'"}],
                        "mark": {"type": "line", "color": "#BEBEBE", "strokeWidth": 2, "strokeDash": [9, 7], "clip": true},
                        "encoding": {"x": {"field": "x", "type": "quantitative"}, "y": {"field": "y", "type": "quantitative"}}}
                     ]}
                  ]
                }
              ]
            },
            {
              "spacing": 12,
              "hconcat": [
                {
                  "spacing": 0,
                  "vconcat": [
                    {"width": 417, "height": 40, "view": {"fill": "#D9D9D9", "stroke": "#333333", "strokeWidth": 1.2},
                     "data": {"values": [{"s": "height"}]},
                     "mark": {"type": "text", "fontSize": 20, "color": "#1A1A1A", "baseline": "middle"},
                     "encoding": {"text": {"field": "s"}, "y": {"datum": 0.5, "type": "quantitative", "scale": {"domain": [0, 1]}, "axis": {"title": null, "labels": false, "ticks": false, "grid": false, "domain": false, "minExtent": 66, "maxExtent": 66}}}},
                    {"width": 417, "height": 226,
                     "layer": [
                       {"data": {"name": "pts"}, "transform": [{"filter": "datum.p === 'height'"}],
                        "mark": {"type": "circle", "size": 115, "opacity": 1},
                        "encoding": {
                          "x": {"field": "x", "type": "quantitative", "scale": {"domain": [-0.069, 1.048], "nice": false, "zero": false},
                                "axis": {"title": null, "values": [0,0.125,0.25,0.375,0.5,0.625,0.75,0.875,1], "labelExpr": "abs(datum.value*4-round(datum.value*4))<0.000001 ? format(datum.value,'.2f') : ''", "gridWidth": {"condition": {"test": "abs(datum.value*4-round(datum.value*4))<0.000001", "value": 1.3}, "value": 0.6}, "tickOpacity": {"condition": {"test": "abs(datum.value*4-round(datum.value*4))<0.000001", "value": 1}, "value": 0}, "labelFlush": false, "labelOverlap": false, "labelPadding": 3}},
                          "y": {"field": "y", "type": "quantitative", "scale": {"domain": [-0.076, 1.263], "nice": false, "zero": false},
                                "axis": {"title": null, "values": [0,0.2,0.4,0.6,0.8,1,1.2], "labelExpr": "abs(datum.value*2.5-round(datum.value*2.5))<0.000001 ? format(datum.value,'.3f') : ''", "gridWidth": {"condition": {"test": "abs(datum.value*2.5-round(datum.value*2.5))<0.000001", "value": 1.3}, "value": 0.6}, "tickOpacity": {"condition": {"test": "abs(datum.value*2.5-round(datum.value*2.5))<0.000001", "value": 1}, "value": 0}, "labelOverlap": false, "labelPadding": 5, "minExtent": 66, "maxExtent": 66}},
                          "color": {"field": "t", "type": "nominal", "scale": {"domain": ["BMI", "EA", "height"], "range": ["#E69F00", "#56B4E9", "#009E73"]},
                                    "legend": {"title": null, "orient": "none", "legendX": 289, "legendY": 977, "direction": "horizontal", "gridAlign": "none", "symbolType": "circle", "symbolSize": 110, "symbolOffset": 25, "labelFontSize": 20, "labelColor": "#000000", "labelOffset": 23, "columnPadding": 2, "padding": 8, "strokeColor": "#888888"}}}},
                       {"data": {"name": "pts"}, "transform": [{"filter": "datum.p === 'height'"}],
                        "mark": {"type": "rule", "color": "#000000", "strokeWidth": 2.5},
                        "encoding": {"x": {"field": "x", "type": "quantitative"}, "y": {"field": "lo", "type": "quantitative"}, "y2": {"field": "hi"}}},
                       {"data": {"name": "lines"}, "transform": [{"filter": "datum.p === 'height' && datum.k === 'h2'"}],
                        "mark": {"type": "line", "color": "#BEBEBE", "strokeWidth": 2, "strokeDash": [9, 7], "clip": true},
                        "encoding": {"x": {"field": "x", "type": "quantitative"}, "y": {"field": "y", "type": "quantitative"}}},
                       {"data": {"name": "lines"}, "transform": [{"filter": "datum.p === 'height' && datum.k === 'fit'"}],
                        "mark": {"type": "line", "color": "#8B0000", "strokeWidth": 2.5, "strokeDash": [2.5, 7.5], "clip": true},
                        "encoding": {"x": {"field": "x", "type": "quantitative"}, "y": {"field": "y", "type": "quantitative"}}}
                     ]}
                  ]
                },
                {
                  "spacing": 0,
                  "vconcat": [
                    {"width": 407, "height": 40, "view": {"fill": "#D9D9D9", "stroke": "#333333", "strokeWidth": 1.2},
                     "data": {"values": [{"s": "height_unrelated"}]},
                     "mark": {"type": "text", "fontSize": 20, "color": "#1A1A1A", "baseline": "middle"},
                     "encoding": {"text": {"field": "s"}, "y": {"datum": 0.5, "type": "quantitative", "scale": {"domain": [0, 1]}, "axis": {"title": null, "labels": false, "ticks": false, "grid": false, "domain": false, "minExtent": 72, "maxExtent": 72}}}},
                    {"width": 407, "height": 226,
                     "layer": [
                       {"data": {"name": "pts"}, "transform": [{"filter": "datum.p === 'height_unrelated'"}],
                        "mark": {"type": "circle", "size": 115, "opacity": 1},
                        "encoding": {
                          "x": {"field": "x", "type": "quantitative", "scale": {"domain": [-0.0243, 0.0513], "nice": false, "zero": false},
                                "axis": {"title": null, "values": [-0.02,-0.01,0,0.01,0.02,0.03,0.04,0.05], "labelExpr": "abs(datum.value*50-round(datum.value*50))<0.000001 ? replace(format(datum.value,'.2f'),'−','-') : ''", "gridWidth": {"condition": {"test": "abs(datum.value*50-round(datum.value*50))<0.000001", "value": 1.3}, "value": 0.6}, "tickOpacity": {"condition": {"test": "abs(datum.value*50-round(datum.value*50))<0.000001", "value": 1}, "value": 0}, "labelFlush": false, "labelOverlap": false, "labelPadding": 3}},
                          "y": {"field": "y", "type": "quantitative", "scale": {"domain": [-0.0251, 0.0949], "nice": false, "zero": false},
                                "axis": {"title": null, "values": [-0.025,-0.0125,0,0.0125,0.025,0.0375,0.05,0.0625,0.075,0.0875], "labelExpr": "abs(datum.value*40-round(datum.value*40))<0.000001 ? replace(format(datum.value,'.3f'),'−','-') : ''", "gridWidth": {"condition": {"test": "abs(datum.value*40-round(datum.value*40))<0.000001", "value": 1.3}, "value": 0.6}, "tickOpacity": {"condition": {"test": "abs(datum.value*40-round(datum.value*40))<0.000001", "value": 1}, "value": 0}, "labelOverlap": false, "labelPadding": 5, "minExtent": 72, "maxExtent": 72}},
                          "color": {"field": "t", "type": "nominal", "scale": {"domain": ["BMI", "EA", "height"], "range": ["#E69F00", "#56B4E9", "#009E73"]},
                                    "legend": {"title": null, "orient": "none", "legendX": 289, "legendY": 977, "direction": "horizontal", "gridAlign": "none", "symbolType": "circle", "symbolSize": 110, "symbolOffset": 25, "labelFontSize": 20, "labelColor": "#000000", "labelOffset": 23, "columnPadding": 2, "padding": 8, "strokeColor": "#888888"}}}},
                       {"data": {"name": "pts"}, "transform": [{"filter": "datum.p === 'height_unrelated'"}],
                        "mark": {"type": "rule", "color": "#000000", "strokeWidth": 2.5},
                        "encoding": {"x": {"field": "x", "type": "quantitative"}, "y": {"field": "lo", "type": "quantitative"}, "y2": {"field": "hi"}}},
                       {"data": {"name": "lines"}, "transform": [{"filter": "datum.p === 'height_unrelated' && datum.k === 'h2'"}],
                        "mark": {"type": "line", "color": "#BEBEBE", "strokeWidth": 2, "strokeDash": [9, 7], "clip": true},
                        "encoding": {"x": {"field": "x", "type": "quantitative"}, "y": {"field": "y", "type": "quantitative"}}}
                     ]}
                  ]
                }
              ]
            }
          ]
        }
      ]
    }
  ]
}
